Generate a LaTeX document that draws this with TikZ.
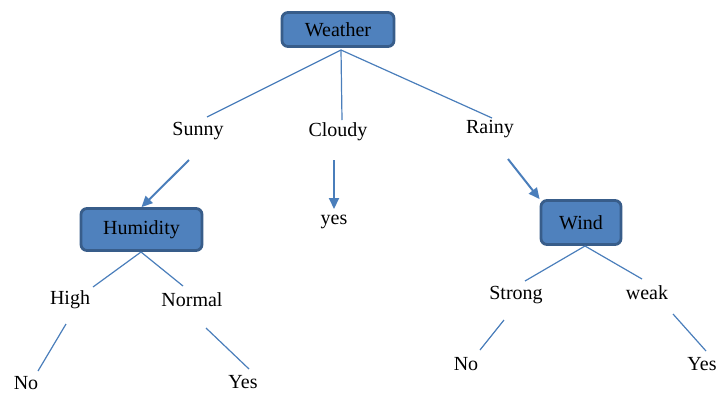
\documentclass[tikz,border=0pt]{standalone}
\usepackage{fontspec}
\setmainfont{Liberation Serif}
\usetikzlibrary{arrows.meta}
\definecolor{boxfill}{HTML}{4F81BD}
\definecolor{boxline}{HTML}{385D8A}
\definecolor{edge}{HTML}{4A7EBB}
\begin{document}
\begin{tikzpicture}[x=1pt,y=-1pt,
  box/.style={draw=boxline,fill=boxfill,line width=2.8pt,rounded corners=6pt,inner sep=0pt,font=\rmfamily\fontsize{20}{22}\selectfont},
  lbl/.style={inner sep=0pt,font=\rmfamily\fontsize{20}{22}\selectfont},
  ln/.style={draw=edge,line width=1.2pt},
  arr/.style={draw=edge,line width=2pt,-{Triangle[length=11pt,width=10pt]}}]
\useasboundingbox (0,0) rectangle (719,394);
% boxes
\node[box,minimum width=112pt,minimum height=34pt] (weather) at (338,29.5) {Weather};
\node[box,minimum width=121pt,minimum height=42pt] (humidity) at (141.5,229.5) {Humidity};
\node[box,minimum width=80pt,minimum height=44pt] (wind) at (581,222.5) {Wind};
% labels
\node[lbl] (sunny) at (198,131) {Sunny};
\node[lbl] (cloudy) at (338,132) {Cloudy};
\node[lbl] (rainy) at (490,129) {Rainy};
\node[lbl] (yes1) at (334,222) {yes};
\node[lbl] (high) at (70,300) {High};
\node[lbl] (normal) at (192,300) {Normal};
\node[lbl] (no1) at (26,383) {No};
\node[lbl] (yes2) at (243,382) {Yes};
\node[lbl] (strong) at (516,295) {Strong};
\node[lbl] (weak) at (647,293) {weak};
\node[lbl] (no2) at (466,364) {No};
\node[lbl] (yes3) at (702,364) {Yes};
% connector end points
\coordinate (sunnyin) at (207,117);
\coordinate (cloudyin) at (342,120);
\coordinate (rainyin) at (492,118);
\coordinate (sunnyout) at (189,160);
\coordinate (cloudyout) at (334,160);
\coordinate (rainyout) at (508,159);
\coordinate (yesin) at (334,209);
\coordinate (humbot) at (141,252);
\coordinate (highin) at (93,287);
\coordinate (normalin) at (183,286);
\coordinate (highout) at (66,324);
\coordinate (no1in) at (38,371);
\coordinate (normalout) at (206,328);
\coordinate (yes2in) at (249,369);
\coordinate (windbot) at (585,246);
\coordinate (strongin) at (525,281);
\coordinate (weakin) at (642,279);
\coordinate (strongout) at (504,320);
\coordinate (no2in) at (480,350);
\coordinate (weakout) at (673,314);
\coordinate (yes3in) at (706,351);
\coordinate (wsrc) at (341,50);
% connectors
\draw[ln] (wsrc) -- (sunnyin);
\draw[ln] (wsrc) -- (cloudyin);
\draw[ln] (wsrc) -- (rainyin);
\draw[arr] (sunnyout) -- (humidity.north);
\draw[arr] (cloudyout) -- (yesin);
\draw[arr] (rainyout) -- (wind.north west);
\draw[ln] (humbot) -- (highin);
\draw[ln] (humbot) -- (normalin);
\draw[ln] (highout) -- (no1in);
\draw[ln] (normalout) -- (yes2in);
\draw[ln] (windbot) -- (strongin);
\draw[ln] (windbot) -- (weakin);
\draw[ln] (strongout) -- (no2in);
\draw[ln] (weakout) -- (yes3in);
\end{tikzpicture}
\end{document}
